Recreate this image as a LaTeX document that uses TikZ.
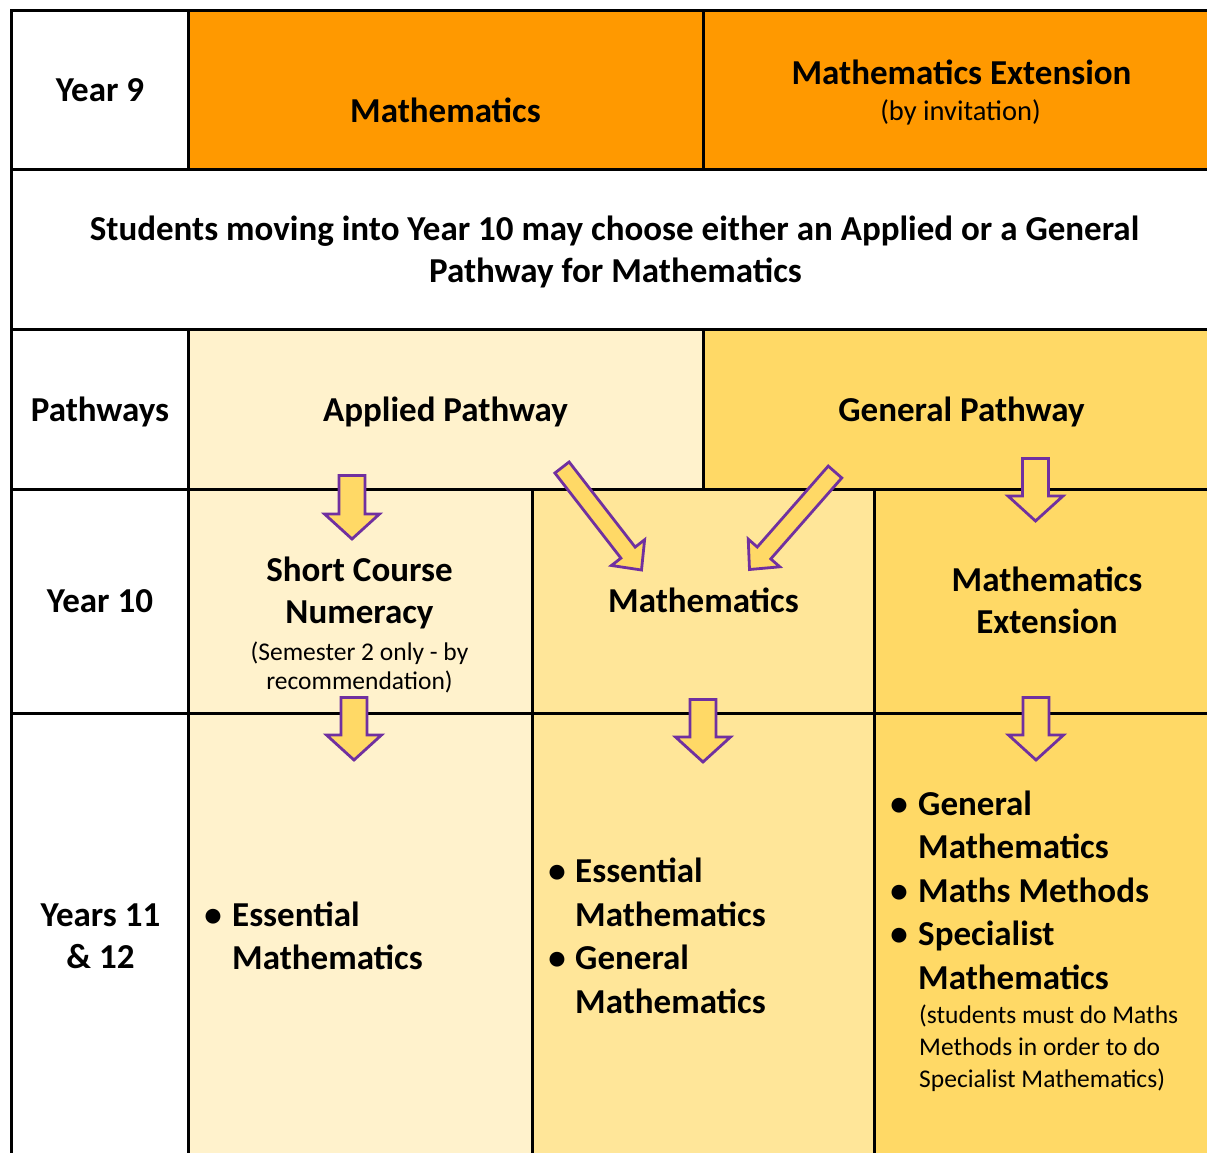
\documentclass[tikz,border=0pt]{standalone}
\usepackage{fontspec}
\setmainfont{Carlito}
\usetikzlibrary{calc}
\definecolor{orangeA}{HTML}{FF9900}
\definecolor{paleY}{HTML}{FFF2CC}
\definecolor{midY}{HTML}{FFE699}
\definecolor{deepY}{HTML}{FFD966}
\definecolor{arrowP}{HTML}{7030A0}
\tikzset{
  big/.style={font=\fontsize{35}{43}\selectfont\bfseries, inner sep=0pt, anchor=base},
  bigw/.style={big, anchor=base west},
  small/.style={font=\fontsize{25.5}{31}\selectfont, inner sep=0pt, anchor=base},
  smallw/.style={small, anchor=base west},
  mid/.style={font=\fontsize{28.5}{34}\selectfont, inner sep=0pt, anchor=base},
  bul/.style={font=\fontsize{35}{43}\selectfont\bfseries, inner sep=0pt, anchor=base},
  gridline/.style={line width=3pt, black, line cap=rect},
  blockarr/.style={draw=arrowP, line width=2.8pt, fill=deepY, line join=miter},
}
\newcommand{\blockarrow}[6]{%
  \coordinate (#1base) at ($(#3)!#6!(#2)$);
  \draw[blockarr] ($(#2)!#4!90:(#3)$) -- ($(#1base)!#4!90:(#3)$) -- ($(#1base)!#5!90:(#3)$) -- (#3) -- ($(#1base)!#5!-90:(#3)$) -- ($(#1base)!#4!-90:(#3)$) -- ($(#2)!#4!-90:(#3)$) -- cycle;}
\begin{document}
\begin{tikzpicture}[x=1pt,y=-1pt]
\useasboundingbox (0,0) rectangle (1207,1153);
\clip (0,0) rectangle (1207,1153);
\fill[white] (0,0) rectangle (1207,1153);
% cell fills
\fill[orangeA] (188,11) rectangle (1219,169);
\fill[paleY] (188,329) rectangle (703,489);
\fill[deepY] (703,329) rectangle (1219,489);
\fill[paleY] (188,489) rectangle (532,1160);
\fill[midY] (532,489) rectangle (874,1160);
\fill[deepY] (874,489) rectangle (1219,1160);
% grid
\foreach \yy in {11,169,329,489,713} \draw[gridline] (11,\yy) -- (1219,\yy);
\draw[gridline] (11,11) -- (11,1170);
\draw[gridline] (188,11) -- (188,169);
\draw[gridline] (188,329) -- (188,1170);
\draw[gridline] (703,11) -- (703,169);
\draw[gridline] (703,329) -- (703,489);
\draw[gridline] (532,489) -- (532,1170);
\draw[gridline] (874,489) -- (874,1170);
% row 1
\node[big] (y9) at (100,102) {Year 9};
\node[big] (m9) at (445.5,123) {Mathematics};
\node[big] (me9) at (961.5,85) {Mathematics Extension};
\node[mid] (inv) at (960.5,121) {(by invitation)};
% row 2
\node[big] (r2a) at (614.5,240) {Students moving into Year 10 may choose either an Applied or a General};
\node[big] (r2b) at (615.5,282) {Pathway for Mathematics};
% row 3
\node[big] (pw) at (100,421) {Pathways};
\node[big] (ap) at (445.5,421) {Applied Pathway};
\node[big] (gp) at (961.5,421) {General Pathway};
% row 4
\node[big] (y10) at (100,612) {Year 10};
\node[big] (sc1) at (359.5,581) {Short Course};
\node[big] (sc2) at (359.5,623) {Numeracy};
\node[small] (sc3) at (359.5,660) {(Semester 2 only - by};
\node[small] (sc4) at (359.5,689) {recommendation)};
\node[big] (m10) at (703.5,612) {Mathematics};
\node[big] (me10a) at (1047,591) {Mathematics};
\node[big] (me10b) at (1047,633) {Extension};
% row 5
\node[big] (y11a) at (100.5,926) {Years 11};
\node[big] (y11b) at (100.5,968) {\& 12};
\node[bul] (bl1) at (213,926) {•};
\node[bigw] (l1) at (232,926) {Essential};
\node[bigw] (l2) at (232,969) {Mathematics};
\node[bul] (bm1) at (557,882) {•};
\node[bul] (bm2) at (557,969) {•};
\node[bigw] (m1) at (575,882) {Essential};
\node[bigw] (m2) at (575,926) {Mathematics};
\node[bigw] (m3) at (575,969) {General};
\node[bigw] (m4) at (575,1013) {Mathematics};
\node[bul] (br1) at (899,815) {•};
\node[bul] (br2) at (899,902) {•};
\node[bul] (br3) at (899,945) {•};
\node[bigw] (r1) at (918,815) {General};
\node[bigw] (r2) at (918,858) {Mathematics};
\node[bigw] (r3) at (918,902) {Maths Methods};
\node[bigw] (r4) at (918,945) {Specialist};
\node[bigw] (r5) at (918,989) {Mathematics};
\node[smallw] (r6) at (919,1023) {(students must do Maths};
\node[smallw] (r7) at (919,1055) {Methods in order to do};
\node[smallw] (r8) at (919,1087) {Specialist Mathematics)};
% arrows
\coordinate (a1t) at (352,475.5); \coordinate (a1h) at (352,539);
\coordinate (a2t) at (354,697.5); \coordinate (a2h) at (354,760);
\coordinate (a3t) at (703,699.5); \coordinate (a3h) at (703,762);
\coordinate (a4t) at (1035.5,458.5); \coordinate (a4h) at (1035.5,521);
\coordinate (a5t) at (1036,697.5); \coordinate (a5h) at (1036,760);
\coordinate (d1t) at (562,467.5); \coordinate (d1h) at (641.5,570);
\coordinate (d2t) at (835,472); \coordinate (d2h) at (749.5,569.5);
\blockarrow{a1}{a1t}{a1h}{13pt}{27.5pt}{25pt}
\blockarrow{a2}{a2t}{a2h}{13pt}{27.5pt}{25pt}
\blockarrow{a3}{a3t}{a3h}{13pt}{27.5pt}{25pt}
\blockarrow{a4}{a4t}{a4h}{13pt}{27.5pt}{25pt}
\blockarrow{a5}{a5t}{a5h}{13pt}{27.5pt}{25pt}
\blockarrow{d1}{d1t}{d1h}{9pt}{21pt}{22pt}
\blockarrow{d2}{d2t}{d2h}{9pt}{21pt}{22pt}
\end{tikzpicture}
\end{document}
